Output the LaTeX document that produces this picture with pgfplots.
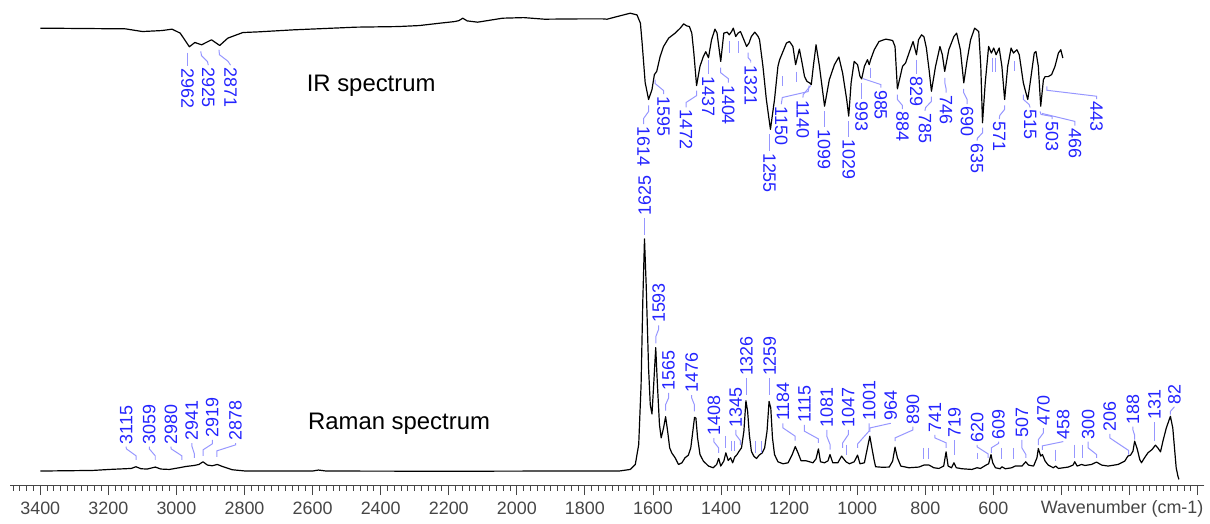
\documentclass[border=0pt]{standalone}
\usepackage{fontspec}
\setmainfont{Liberation Sans}
\usepackage{pgfplots}
\pgfplotsset{compat=1.18}
\definecolor{lblue}{RGB}{35,35,255}
\definecolor{leadc}{RGB}{150,150,255}
\definecolor{axc}{RGB}{70,70,70}
% annotation helper: picture position (px from left, px from top) -> axis cs
\newcommand\pp[2]{(axis cs:{3400-(#1-40.5)*2.924},{520-(#2)})}
\tikzset{
  lead/.style={leadc, line width=0.5pt},
  irl/.style={text=lblue, font=\fontsize{9}{10}\selectfont, rotate=-90, anchor=west, inner xsep=1pt, inner ysep=0pt},
  ral/.style={text=lblue, font=\fontsize{9}{10}\selectfont, rotate=90, anchor=west, inner xsep=1pt, inner ysep=0pt},
}
\begin{document}
\begin{tikzpicture}
\begin{axis}[
  scale only axis, width=600pt, height=243.75pt,
  x dir=reverse, xmin=-19.6, xmax=3489, ymin=32.5, ymax=520,
  axis x line*=bottom, axis y line=none,
  xtick={0,200,...,3400},
  xticklabels={{},{},{},600,800,1000,1200,1400,1600,1800,2000,2200,2400,2600,2800,3000,3200,3400},
  minor xtick={0,20,...,3480},
  xtick align=outside,
  major tick length=5pt, minor tick length=2.7pt,
  x axis line style={axc, line width=0.5pt},
  tick style={axc, line width=0.5pt},
  xticklabel style={font=\fontsize{9}{10}\selectfont, text=axc},
  clip=false,
]
\path \pp{0}{0} rectangle \pp{1210}{520};
% IR spectrum
\addplot[black, line width=0.6pt, line join=round, mark=none] coordinates {
(3400,491.7)(3150,491)(3100,488.3)(3042,489.3)(3013,490.7)(2989,486.7)(2962,473)(2946,477.3)(2926,475)(2897,480)(2873,474.3)(2849,481.7)(2805,487.3)(2758,488)(2656,490)(2472,492.7)(2349,493.3)(2287,494.3)(2226,496.7)(2183,498.3)(2170,499.3)(2159,501.7)(2146,499)(2115,497.7)(2042,501.7)(1980,502.3)(1919,500.7)(1820,501)(1747,501)(1735,500.7)(1706,503.3)(1667,506.7)(1647,505)(1637,496.7)(1632,477)(1623,437)(1613,420)(1603,430)(1596,445)(1589,448.3)(1579,463.3)(1569,473.3)(1554,481.7)(1535,486.7)(1520,491.7)(1510,496)(1501,494)(1493,493.3)(1486,486.7)(1480,466.7)(1472,434)(1462,453.3)(1452,463.3)(1445,468)(1437,462)(1428,480)(1418,490.7)(1412,487)(1401,458.3)(1392,486.7)(1382,487.7)(1376,485)(1369,488.3)(1364,491.7)(1357,483.3)(1350,486.7)(1343,488.3)(1335,481.7)(1325,473.3)(1318,476.7)(1311,483.3)(1301,487.7)(1291,483.3)(1287,480)(1277,453.3)(1267,420)(1255,390)(1243,420)(1233,453.3)(1228,460)(1216,470)(1208,476.7)(1199,478.3)(1189,473.3)(1181,455)(1170,470.7)(1162,456.7)(1155,443.3)(1148,438.3)(1140,436.7)(1135,435)(1129,453.3)(1121,475)(1111,453.3)(1096,413.3)(1082,440)(1067,455)(1054,462.7)(1043,446.7)(1031,420)(1025,403.3)(1018,436.7)(1009,458.3)(999,455)(992,443.3)(987,440.7)(979,453.3)(970,460)(965,455)(960,460.7)(950,470)(936,478.3)(916,480.7)(896,479.3)(889,473.3)(882,430.7)(867,453.3)(858,456.7)(848,466.7)(836,478.3)(826,465)(820,480)(811,485)(804,483)(797,472)(789,450)(782,428.3)(770,453.3)(757,473.3)(750,465)(743,448.3)(731,470)(716,483.3)(708,486.7)(697,470)(687,436.7)(677,460)(667,480)(655,491.7)(643,488.3)(637,453.3)(632,396.7)(624,436.7)(614,473.3)(606,466.7)(599,471.7)(592,465)(583,471.7)(575,453.3)(567,420)(558,453.3)(548,471.7)(541,466.7)(531,470)(524,465)(512,436.7)(507,430)(499,420)(492,436.7)(480,466.7)(475,468.3)(468,453.3)(461,413.3)(453,440)(448,443)(439,443)(429,445)(419,453.3)(409,466.7)(402,470)(396,461.7)
};
% Raman spectrum
\addplot[black, line width=0.6pt, line join=round, mark=none] coordinates {
(3400,46.7)(3246,47.3)(3197,48.3)(3133,49.3)(3119,51)(3104,49)(3086,48.7)(3062,50.7)(3046,48.7)(3021,48.3)(2992,50)(2972,51.3)(2948,52.3)(2934,53.3)(2922,56)(2909,52.7)(2895,52)(2880,53.3)(2865,51.3)(2836,48)(2797,46.7)(2600,46.7)(2583,47.7)(2560,46.7)(2200,46.5)(1900,46.7)(1700,46.7)(1667,48.3)(1652,53.3)(1642,73.3)(1635,133.3)(1630,217)(1625,280)(1620,233.3)(1613,150)(1608,113.3)(1603,104)(1598,133.3)(1592,170.7)(1587,133.3)(1581,93.3)(1576,80)(1569,90)(1563,101.3)(1557,86.7)(1551,70)(1545,65)(1535,60)(1525,53.3)(1515,55)(1506,60)(1496,62.7)(1489,70)(1483,86.7)(1478,100.7)(1474,100)(1469,80)(1462,63.3)(1452,56.7)(1437,51.7)(1423,50)(1413,53.3)(1407,59.3)(1401,51.7)(1392,56.7)(1386,65)(1379,57.3)(1372,60)(1366,55)(1360,60.7)(1353,63.3)(1347,66.7)(1340,70)(1333,86.7)(1327,117.3)(1322,106.7)(1317,83.3)(1311,66.7)(1304,61.7)(1296,59.3)(1288,62.7)(1279,65)(1272,70)(1265,86.7)(1259,116.7)(1254,110)(1249,80)(1243,63.3)(1233,56)(1218,54)(1203,55)(1191,63.3)(1182,71.3)(1174,65)(1165,57)(1150,57)(1130,55)(1121,59)(1114,69)(1108,56)(1096,55)(1086,57)(1080,63.3)(1072,55)(1057,55)(1046,61.7)(1033,56)(1023,54)(1009,56)(999,62.7)(992,54)(979,55)(970,70)(963,81.7)(957,70)(950,57)(946,51)(926,50.5)(906,50.7)(896,56.7)(889,70.7)(882,60)(872,51.7)(848,50)(819,50.7)(804,52.7)(789,52.7)(775,50)(760,49.3)(746,51.7)(739,66)(733,51.7)(723,50)(716,55)(709,50)(692,49)(663,48.3)(648,50)(638,49.3)(620,53)(614,54)(611,58)(607,63.3)(602,55)(594,50)(580,49)(575,51)(565,49)(546,50)(536,51.7)(516,51.7)(505,56)(497,52.7)(482,51.7)(472,60)(468,69.3)(461,61.7)(456,63.3)(448,56.7)(439,52.7)(424,50)(417,51.7)(409,49.3)(380,50.7)(366,52.7)(361,56)(354,51.7)(341,53.3)(331,52.3)(312,53.3)(297,55.7)(282,52.7)(263,51.7)(234,53.3)(214,56.7)(205,61.7)(197,62.7)(190,66.7)(185,76.7)(177,68.3)(170,58.3)(165,55)(156,60)(146,65)(134,68.3)(124,72.7)(117,70)(109,66)(102,76.7)(92,90)(80,101.7)(73,90)(68,70)(63,50)(58,41.7)(55,38.3)
};
% titles
\node[font=\fontsize{12}{14}\selectfont, anchor=base] at (axis cs:2428,428.5) {IR spectrum};
\node[font=\fontsize{12}{14}\selectfont, anchor=base] at (axis cs:2346,88) {Raman spectrum};
\node[font=\fontsize{9}{10}\selectfont, text=axc, anchor=base] at (axis cs:222,4.5) {Wavenumber (cm-1)};
% IR labels
\draw[lead] \pp{188.5}{53} -- \pp{188.5}{66.5} node[irl]{2962};
\draw[lead] \pp{201.7}{51.7} -- \pp{202.5}{56} -- \pp{208.5}{62} -- \pp{209.3}{65.5} node[irl]{2925};
\draw[lead] \pp{220}{50} -- \pp{220.5}{55} -- \pp{229}{61.5} -- \pp{231.7}{65.5} node[irl]{2871};
\draw[lead] \pp{651.7}{106} -- \pp{651.7}{112} -- \pp{646.7}{119} -- \pp{646.7}{124.7} node[irl]{1614};
\draw[lead] \pp{658.3}{80} -- \pp{658.3}{84} -- \pp{666.7}{91} -- \pp{666.7}{94.7} node[irl]{1595};
\draw[lead] \pp{700}{91} -- \pp{700}{96} -- \pp{689.3}{103} -- \pp{689.3}{108} node[irl]{1472};
\draw[lead] \pp{711.7}{60} -- \pp{711.7}{74.7} node[irl]{1437};
\draw[lead] \pp{724}{68} -- \pp{724}{73} -- \pp{731.7}{79} -- \pp{731.7}{83} node[irl]{1404};
\draw[lead] \pp{732.7}{41.7} -- \pp{732.7}{53.3};
\draw[lead] \pp{741.7}{41.7} -- \pp{741.7}{53.3};
\draw[lead] \pp{751.7}{53} -- \pp{751.7}{58} -- \pp{754.3}{61} -- \pp{754.3}{63} node[irl]{1321};
\draw[lead] \pp{773.3}{135} -- \pp{773.3}{151.3} node[irl]{1255};
\draw[lead] \pp{786}{76.7} -- \pp{786}{86.7};
\draw[lead] \pp{800}{72} -- \pp{800}{82};
\draw[lead] \pp{813}{86} -- \pp{812}{92} -- \pp{786}{98} -- \pp{785}{104.7} node[irl]{1150};
\draw[lead] \pp{814.5}{86} -- \pp{807}{95} -- \pp{806.7}{98} node[irl]{1140};
\draw[lead] \pp{828}{111.7} -- \pp{828}{128} node[irl]{1099};
\draw[lead] \pp{852.7}{121.7} -- \pp{852.7}{138} node[irl]{1029};
\draw[lead] \pp{865.7}{83.3} -- \pp{865.7}{99.7} node[irl]{993};
\draw[lead] \pp{875}{68} -- \pp{875}{78};
\draw[lead] \pp{867}{79} -- \pp{885}{85} -- \pp{885}{88} node[irl]{985};
\draw[lead] \pp{901.7}{95} -- \pp{901.7}{100} -- \pp{906.7}{106} -- \pp{906.7}{109.7} node[irl]{884};
\draw[lead] \pp{920.7}{60} -- \pp{920.7}{74.7} node[irl]{829};
\draw[lead] \pp{935.7}{97} -- \pp{935.7}{102} -- \pp{930}{108} -- \pp{929.3}{111.3} node[irl]{785};
\draw[lead] \pp{949.3}{78.3} -- \pp{949.3}{83.3} -- \pp{950.5}{89} -- \pp{950.5}{93} node[irl]{746};
\draw[lead] \pp{968.3}{89.3} -- \pp{968.3}{93.3} -- \pp{971.7}{100} -- \pp{971.7}{104.7} node[irl]{690};
\draw[lead] \pp{987.3}{128.3} -- \pp{987.3}{133.3} -- \pp{982}{139} -- \pp{981.7}{141.3} node[irl]{635};
\draw[lead] \pp{1009.3}{106} -- \pp{1009.3}{110} -- \pp{1004.5}{116} -- \pp{1004}{119.7} node[irl]{571};
\draw[lead] \pp{996.7}{58} -- \pp{996.7}{72};
\draw[lead] \pp{1000}{58} -- \pp{1000}{72};
\draw[lead] \pp{1019.3}{61.7} -- \pp{1019.3}{71.7};
\draw[lead] \pp{1028.3}{95} -- \pp{1028.3}{100} -- \pp{1034}{105} -- \pp{1035}{108} node[irl]{515};
\draw[lead] \pp{1045}{112} -- \pp{1046}{115} -- \pp{1057}{117} -- \pp{1057}{119.7} node[irl]{503};
\draw[lead] \pp{1047}{114} -- \pp{1080}{122} -- \pp{1080}{126.3} node[irl]{466};
\draw[lead] \pp{1051.7}{86.7} -- \pp{1051.7}{90.7} -- \pp{1101.7}{96.7} -- \pp{1101.7}{99.7} node[irl]{443};
% Raman labels
\draw[lead] \pp{136.7}{462} -- \pp{136.7}{458} -- \pp{127}{451} -- \pp{126.7}{448.7} node[ral]{3115};
\draw[lead] \pp{156}{462} -- \pp{156}{458} -- \pp{150}{451} -- \pp{150}{448.7} node[ral]{3059};
\draw[lead] \pp{182.7}{462} -- \pp{182.7}{458} -- \pp{172}{451} -- \pp{171.7}{448.7} node[ral]{2980};
\draw[lead] \pp{195.3}{460} -- \pp{195.3}{456} -- \pp{192.7}{448} -- \pp{192.7}{445.3} node[ral]{2941};
\draw[lead] \pp{204}{458} -- \pp{204}{452} -- \pp{213.3}{446} -- \pp{213.3}{442} node[ral]{2919};
\draw[lead] \pp{218}{459} -- \pp{218}{453} -- \pp{236.7}{447} -- \pp{236.7}{445.3} node[ral]{2878};
\draw[lead] \pp{647.7}{236} -- \pp{647.7}{219} node[ral]{1625};
\draw[lead] \pp{659}{345} -- \pp{659}{338} -- \pp{661.7}{331} -- \pp{661.7}{327} node[ral]{1593};
\draw[lead] \pp{668.7}{412.7} -- \pp{668.7}{406.7} -- \pp{671.7}{400} -- \pp{671.7}{394.7} node[ral]{1565};
\draw[lead] \pp{697.7}{413.3} -- \pp{697.7}{406.7} -- \pp{695}{400} -- \pp{695}{397} node[ral]{1476};
\draw[lead] \pp{722}{455} -- \pp{722}{450} -- \pp{717.3}{444} -- \pp{717.3}{440.3} node[ral]{1408};
\draw[lead] \pp{729.3}{438} -- \pp{729.3}{450};
\draw[lead] \pp{735}{443} -- \pp{735}{453};
\draw[lead] \pp{737.5}{443} -- \pp{737.5}{453};
\draw[lead] \pp{744}{447} -- \pp{744}{443} -- \pp{739.3}{436.7} -- \pp{739.3}{432} node[ral]{1345};
\draw[lead] \pp{750}{396.7} -- \pp{750}{380.3} node[ral]{1326};
\draw[lead] \pp{773.3}{396.7} -- \pp{773.3}{380.3} node[ral]{1259};
\draw[lead] \pp{759.3}{443} -- \pp{759.3}{455};
\draw[lead] \pp{765.3}{443} -- \pp{765.3}{455};
\draw[lead] \pp{799}{442.7} -- \pp{799}{438.3} -- \pp{786.7}{430} -- \pp{786.7}{425.3} node[ral]{1184};
\draw[lead] \pp{822.3}{445} -- \pp{822.3}{441} -- \pp{808.3}{433.3} -- \pp{808.3}{427} node[ral]{1115};
\draw[lead] \pp{834}{451.7} -- \pp{834}{446.7} -- \pp{830.7}{438.3} -- \pp{830.7}{432} node[ral]{1081};
\draw[lead] \pp{846.7}{450} -- \pp{846.7}{445} -- \pp{852.3}{436.7} -- \pp{852.3}{432} node[ral]{1047};
\draw[lead] \pp{851}{446.7} -- \pp{851}{456.7};
\draw[lead] \pp{861.7}{450} -- \pp{861.7}{446} -- \pp{873.3}{433} -- \pp{873.3}{425.3} node[ral]{1001};
\draw[lead] \pp{874}{434} -- \pp{874}{430} -- \pp{895}{425.3} node[ral]{964};
\draw[lead] \pp{899.3}{443.3} -- \pp{899.3}{440} -- \pp{917.3}{432} -- \pp{917.3}{428.7} node[ral]{890};
\draw[lead] \pp{928.3}{450} -- \pp{928.3}{461.7};
\draw[lead] \pp{933.3}{450} -- \pp{933.3}{461.7};
\draw[lead] \pp{950.7}{450} -- \pp{950.7}{445} -- \pp{939.3}{440} -- \pp{939.3}{437} node[ral]{741};
\draw[lead] \pp{959}{456.7} -- \pp{959}{442} node[ral]{719};
\draw[lead] \pp{981.7}{455} -- \pp{981.7}{461.7};
\draw[lead] \pp{992.7}{460} -- \pp{992.7}{456} -- \pp{981.7}{449} -- \pp{981.7}{447} node[ral]{620};
\draw[lead] \pp{996}{455} -- \pp{996}{450} -- \pp{1003.3}{445.5} -- \pp{1003.3}{443.7} node[ral]{609};
\draw[lead] \pp{1006.7}{450} -- \pp{1006.7}{461.7};
\draw[lead] \pp{1018.3}{450} -- \pp{1018.3}{461.7};
\draw[lead] \pp{1030.7}{460} -- \pp{1030.7}{456.7} -- \pp{1026.7}{450} -- \pp{1026.7}{442} node[ral]{507};
\draw[lead] \pp{1043.3}{447.3} -- \pp{1043.3}{441.7} -- \pp{1048.3}{435} -- \pp{1048.3}{430.3} node[ral]{470};
\draw[lead] \pp{1047.3}{452} -- \pp{1047.3}{448} -- \pp{1068.3}{443.7} node[ral]{458};
\draw[lead] \pp{1060.7}{451.7} -- \pp{1060.7}{463.3};
\draw[lead] \pp{1080}{446.7} -- \pp{1080}{460};
\draw[lead] \pp{1087.3}{446.7} -- \pp{1087.3}{460};
\draw[lead] \pp{1101.7}{460} -- \pp{1101.7}{456.7} -- \pp{1093.3}{450} -- \pp{1093.3}{443.7} node[ral]{300};
\draw[lead] \pp{1134}{456.7} -- \pp{1134}{452.7} -- \pp{1115}{440} -- \pp{1115}{436} node[ral]{206};
\draw[lead] \pp{1140}{441.7} -- \pp{1140}{437.3} -- \pp{1138.3}{432} -- \pp{1138.3}{428.7} node[ral]{188};
\draw[lead] \pp{1160}{443.3} -- \pp{1160}{423.7} node[ral]{131};
\draw[lead] \pp{1176}{416.7} -- \pp{1176}{413.3} -- \pp{1180}{408.7} node[ral]{82};
\end{axis}
\end{tikzpicture}
\end{document}
